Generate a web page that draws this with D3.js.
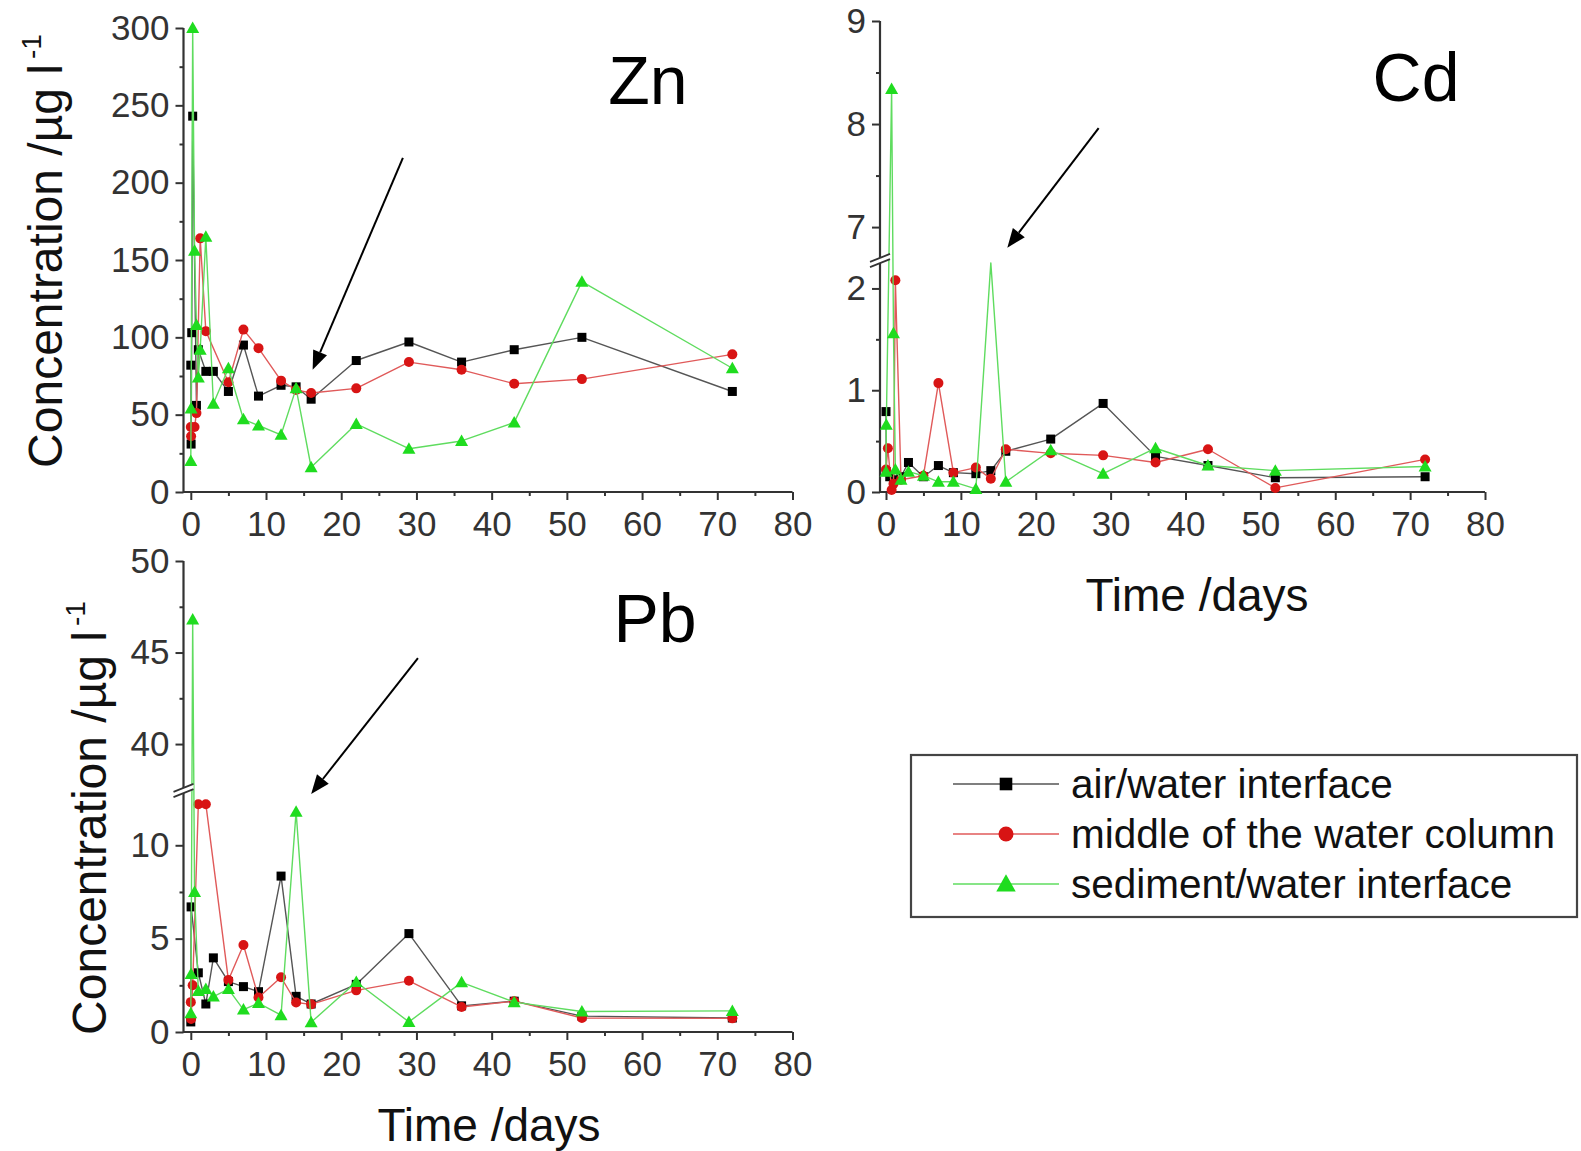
<!DOCTYPE html>
<html><head><meta charset="utf-8">
<script src="https://cdn.jsdelivr.net/npm/d3@7"></script>
<style>
body{margin:0;background:#fff}
svg{display:block}
text{font-family:"Liberation Sans",Arial,Helvetica,sans-serif}
</style>
</head><body>
<svg id="c" width="1581" height="1151"></svg>
<script>
// ---------------- data ----------------
const days = [0, 0.04, 0.125, 0.25, 0.5, 0.75, 1, 1.25, 2, 3, 5, 7, 9, 12, 14, 16, 22, 29, 36, 43, 52, 72];
const seriesNames = ["air/water interface", "middle of the water column", "sediment/water interface"];

const znAir = [82, 31, 103, 243, null, 56, 92, null, 78, 78, 65, 95, 62, 69, 68, 60, 85, 97, 84, 92, 100, 65];
const znMid = [42, 36, null, null, 42, 51, null, 164, 104, null, 71, 105, 93, 72, 66, 64, 67, 84, 79, 70, 73, 89];
const znSed = [20, 54, null, 300, 156, 108, 74, 92, 165, 57, 80, 47, 43, 37, 67, 16, 44, 28, 33, 45, 136, 80];

const cdAir = [0.79, 0.2, null, null, 0.15, null, 0.12, null, 0.15, 0.29, 0.15, 0.26, 0.19, 0.18, 0.21, 0.40, 0.52, 0.87, 0.35, 0.26, 0.14, 0.15];
const cdMid = [0.22, null, null, 0.43, null, 0.02, 0.08, 2.08, 0.12, null, 0.16, 1.07, 0.19, 0.24, 0.13, 0.42, 0.38, 0.36, 0.29, 0.42, 0.04, 0.32];
const cdSed = [0.2, 0.66, null, null, null, 8.34, 1.56, 0.22, 0.12, 0.2, 0.16, 0.1, 0.1, 0.03, 2.4, 0.1, 0.41, 0.18, 0.43, 0.26, 0.21, 0.25];

const pbAir = [0.54, 6.7, null, null, null, null, 3.17, null, 1.5, 3.97, 2.7, 2.43, 2.16, 8.35, 1.91, 1.5, 2.55, 5.27, 1.4, 1.65, 0.85, 0.75];
const pbMid = [1.6, 0.7, null, 2.5, null, null, 12.2, null, 12.2, null, 2.78, 4.66, 1.85, 2.93, 1.58, 1.48, 2.23, 2.74, 1.34, 1.65, 0.75, 0.73];
const pbSed = [1.0, 3.1, null, 46.8, 7.5, null, 2.2, null, 2.3, 1.9, 2.3, 1.2, 1.55, 0.9, 11.8, 0.52, 2.68, 0.54, 2.66, 1.6, 1.1, 1.13];

const xTicks = [0, 10, 20, 30, 40, 50, 60, 70, 80];
const xMinor = [5, 15, 25, 35, 45, 55, 65, 75];
const znTicks = [0, 50, 100, 150, 200, 250, 300];
const znMinor = [25, 75, 125, 175, 225, 275];
const cdTicks = [0, 1, 2, 7, 8, 9];
const cdMinor = [0.5, 1.5, 7.5, 8.5];
const pbTicks = [0, 5, 10, 40, 45, 50];
const pbMinor = [2.5, 7.5, 42.5, 47.5];

// arrows in data coordinates [start, tip]
const znArrow = [[28.2, 216], [16.2, 79]];
const cdArrow = [[28.4, 7.96], [16.2, 6.8]];
const pbArrow = [[30.2, 44.7], [16.0, 12.75]];

// ---------------- layout / style ----------------
const svg = d3.select("#c");
const colors = ["#000000", "#d81414", "#1fdc1f"];
const lineColors = ["#555555", "#e05a5a", "#5fdc5f"];
const tickColor = "#333";

const panels = [
  {name: "Zn", series: [znAir, znMid, znSed], xr: [190.8, 792.5], axisX: 183.5,
   yDomain: [0, 300], yRange: [492, 28], gap: null, major: znTicks, minor: znMinor,
   label: [648, 104], arrow: znArrow},
  {name: "Cd", series: [cdAir, cdMid, cdSed], xr: [886, 1485], axisX: 880,
   yDomain: [0, 2.25, 6.7, 9], yRange: [492, 263, 258, 21], gap: [2.25, 6.7], major: cdTicks, minor: cdMinor,
   label: [1416, 101], arrow: cdArrow},
  {name: "Pb", series: [pbAir, pbMid, pbSed], xr: [190.8, 792.5], axisX: 183.5,
   yDomain: [0, 12.8, 37.6, 50], yRange: [1032, 793, 788, 561], gap: [12.8, 37.6], major: pbTicks, minor: pbMinor,
   label: [655, 642], arrow: pbArrow}
];

function marker(g, type, cx, cy, col) {
  if (type === 0) {
    g.append("rect").attr("x", cx - 4.5).attr("y", cy - 4.5).attr("width", 9).attr("height", 9).attr("fill", col);
  } else if (type === 1) {
    g.append("circle").attr("cx", cx).attr("cy", cy).attr("r", 5).attr("fill", col);
  } else {
    g.append("path").attr("d", `M${cx},${cy - 6.5}L${cx + 6.5},${cy + 5}L${cx - 6.5},${cy + 5}Z`).attr("fill", col);
  }
}

panels.forEach(p => {
  const x = d3.scaleLinear().domain([0, 80]).range(p.xr);
  const y = d3.scaleLinear().domain(p.yDomain).range(p.yRange);
  const y0 = p.yRange[0];
  const g = svg.append("g");

  // x axis
  const gx = g.append("g").attr("transform", `translate(0,${y0})`);
  gx.call(d3.axisBottom(x).tickValues(xTicks).tickSize(8).tickPadding(11).tickFormat(d3.format("d")));
  gx.append("g").call(d3.axisBottom(x).tickValues(xMinor).tickSize(4).tickFormat(""));
  gx.selectAll(".domain").remove();
  gx.selectAll("line").attr("stroke", tickColor).attr("stroke-width", 2);
  gx.selectAll("text").attr("font-size", 35).attr("fill", tickColor)
    .attr("font-family", '"Liberation Sans",Arial,sans-serif');
  g.append("line").attr("x1", p.axisX).attr("x2", p.xr[1]).attr("y1", y0).attr("y2", y0)
    .attr("stroke", tickColor).attr("stroke-width", 2.2);

  // y axis
  const gy = g.append("g").attr("transform", `translate(${p.axisX},0)`);
  gy.call(d3.axisLeft(y).tickValues(p.major).tickSize(8).tickPadding(6).tickFormat(d3.format("d")));
  gy.append("g").call(d3.axisLeft(y).tickValues(p.minor).tickSize(4).tickFormat(""));
  gy.selectAll(".domain").remove();
  gy.selectAll("line").attr("stroke", tickColor).attr("stroke-width", 2);
  gy.selectAll("text").attr("font-size", 35).attr("fill", tickColor)
    .attr("font-family", '"Liberation Sans",Arial,sans-serif');
  const segs = p.gap ? [[p.yDomain[0], p.gap[0]], [p.gap[1], p.yDomain[p.yDomain.length - 1]]]
                     : [[p.yDomain[0], p.yDomain[p.yDomain.length - 1]]];
  segs.forEach(s => {
    g.append("line").attr("x1", p.axisX).attr("x2", p.axisX).attr("y1", y(s[0]) + 1).attr("y2", y(s[1]))
      .attr("stroke", tickColor).attr("stroke-width", 2.2);
  });

  // series
  p.series.forEach((s, si) => {
    const pts = days.map((d, i) => ({d, v: s[i]})).filter(o => o.v !== null);
    const line = d3.line().x(o => x(o.d)).y(o => y(o.v));
    g.append("path").attr("d", line(pts)).attr("fill", "none")
      .attr("stroke", lineColors[si]).attr("stroke-width", 1.4).attr("stroke-linejoin", "round");
    const mg = g.append("g");
    pts.filter(o => !(p.gap && o.v > p.gap[0] && o.v < p.gap[1]))
       .forEach(o => marker(mg, si, x(o.d), y(o.v), colors[si]));
  });

  // axis break symbol
  if (p.gap) {
    const yc = (y(p.gap[0]) + y(p.gap[1])) / 2;
    const ax = p.axisX, hw = 10, sl = 4, hg = 2.6;
    g.append("path")
      .attr("d", `M${ax - hw},${yc - hg + sl}L${ax + hw},${yc - hg - sl}L${ax + hw},${yc + hg - sl}L${ax - hw},${yc + hg + sl}Z`)
      .attr("fill", "#fff");
    [-hg, hg].forEach(o => {
      g.append("line").attr("x1", ax - hw).attr("y1", yc + o + sl).attr("x2", ax + hw).attr("y2", yc + o - sl)
        .attr("stroke", tickColor).attr("stroke-width", 1.8);
    });
  }

  // element label
  g.append("text").attr("x", p.label[0]).attr("y", p.label[1]).attr("text-anchor", "middle")
    .attr("font-size", 68).attr("fill", "#000").text(p.name);

  // arrow
  const [a0, a1] = p.arrow;
  const sx = x(a0[0]), sy = y(a0[1]), tx = x(a1[0]), ty = y(a1[1]);
  const ang = Math.atan2(ty - sy, tx - sx), L = 19, Wd = 7.5;
  const bx = tx - L * Math.cos(ang), by = ty - L * Math.sin(ang);
  g.append("line").attr("x1", sx).attr("y1", sy).attr("x2", bx).attr("y2", by)
    .attr("stroke", "#000").attr("stroke-width", 2);
  g.append("path")
    .attr("d", `M${tx},${ty}L${bx + Wd * Math.sin(ang)},${by - Wd * Math.cos(ang)}L${bx - Wd * Math.sin(ang)},${by + Wd * Math.cos(ang)}Z`)
    .attr("fill", "#000");
});

// axis titles
function yTitle(xb, yc) {
  const t = svg.append("text").attr("transform", `translate(${xb},${yc}) rotate(-90)`)
    .attr("text-anchor", "middle").attr("font-size", 48).attr("fill", "#111");
  t.append("tspan").text("Concentration /µg l");
  t.append("tspan").attr("dx", 5).attr("dy", -21).attr("font-size", 28).text("-1");
}
yTitle(62, 251);
yTitle(106, 818);

svg.append("text").attr("x", 1197).attr("y", 611).attr("text-anchor", "middle")
  .attr("font-size", 46).attr("fill", "#111").text("Time /days");
svg.append("text").attr("x", 489).attr("y", 1141).attr("text-anchor", "middle")
  .attr("font-size", 46).attr("fill", "#111").text("Time /days");

// legend
const lg = svg.append("g");
lg.append("rect").attr("x", 911).attr("y", 755).attr("width", 666).attr("height", 162)
  .attr("fill", "#fff").attr("stroke", "#444").attr("stroke-width", 2.2);
const rowY = d3.scalePoint().domain(seriesNames).range([784, 884]);
seriesNames.forEach((n, i) => {
  const yy = rowY(n);
  lg.append("line").attr("x1", 953).attr("x2", 1059).attr("y1", yy).attr("y2", yy)
    .attr("stroke", lineColors[i]).attr("stroke-width", 1.6);
  const s = i === 0 ? 1.4 : 1.5;
  const mg = lg.append("g").attr("transform", `translate(1006,${yy}) scale(${s}) translate(-1006,${-yy})`);
  marker(mg, i, 1006, yy, colors[i]);
  lg.append("text").attr("x", 1071).attr("y", yy + 14).attr("font-size", 40.5).attr("fill", "#111").text(n);
});
</script>
</body></html>
